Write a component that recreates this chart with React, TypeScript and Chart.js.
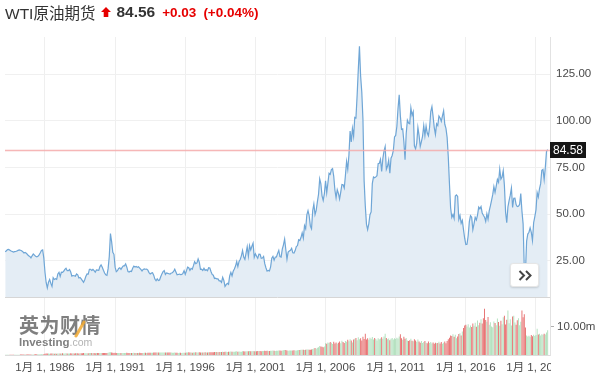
import React, { useEffect, useRef } from 'react';
import { Chart, registerables } from 'chart.js';
Chart.register(...registerables);

// Monthly series, starting March 1983 and ending November 2021
const START_YEAR = 1983;
const START_MONTH = 2; // March (0-based)

const prices: number[] = [
  29.7, 30.3, 30.9, 31.0, 30.6, 30.2, 29.9, 29.6, 29.8, 29.9, // 1983 (Mar-Dec)
  30.2, 30.5, 30.8, 30.6, 30.3, 29.8, 29.1, 29.4, 29.0, 28.3, 27.6, 27.3, // 1984
  26.5, 27.6, 28.6, 28.0, 27.3, 27.0, 27.4, 28.1, 29.2, 30.5, 30.8, 26.5, // 1985
  18.8, 13.3, 10.4, 13.5, 14.9, 12.8, 11.2, 15.9, 14.9, 15.3, 15.0, 17.9, // 1986
  18.7, 16.6, 18.8, 18.7, 19.3, 20.3, 20.9, 19.6, 19.6, 20.2, 18.9, 16.7, // 1987
  17.0, 16.9, 16.6, 17.9, 17.4, 15.7, 16.0, 15.2, 14.3, 13.4, 14.8, 16.6, // 1988
  17.9, 17.8, 20.4, 20.4, 19.8, 20.3, 19.6, 18.8, 20.0, 19.9, 19.8, 21.8, // 1989
  22.7, 21.5, 19.9, 18.4, 17.4, 17.1, 20.7, 27.3, 39.5, 35.2, 29.5, 28.4, // 1990
  21.5, 19.1, 19.6, 20.8, 21.2, 20.3, 21.4, 22.2, 22.2, 23.3, 21.5, 19.1, // 1991
  18.9, 19.4, 19.2, 20.9, 22.1, 21.6, 21.9, 21.4, 21.7, 21.0, 20.3, 19.5, // 1992
  20.3, 20.6, 20.4, 20.5, 19.9, 18.6, 17.9, 18.3, 18.5, 17.2, 15.1, 14.2, // 1993
  15.2, 14.3, 14.6, 16.4, 17.9, 19.1, 19.7, 17.6, 18.4, 18.2, 18.0, 17.8, // 1994
  18.4, 18.5, 19.2, 20.4, 18.9, 17.4, 17.6, 17.8, 17.5, 17.6, 18.2, 19.6, // 1995
  17.7, 19.5, 21.5, 21.2, 19.8, 20.9, 20.4, 22.3, 24.4, 23.4, 23.8, 25.9, // 1996
  24.2, 20.3, 20.4, 19.7, 20.9, 19.8, 20.1, 19.6, 21.2, 21.1, 19.2, 17.6, // 1997
  17.2, 15.4, 15.6, 15.2, 15.2, 14.2, 14.2, 13.4, 16.1, 14.4, 11.2, 12.1, // 1998
  12.8, 12.3, 16.8, 18.7, 16.8, 19.3, 20.5, 22.1, 24.5, 21.8, 24.6, 25.6, // 1999
  27.6, 30.4, 26.9, 25.7, 29.0, 32.5, 27.4, 33.1, 30.8, 32.7, 34.4, 26.8, // 2000
  28.7, 27.4, 26.3, 28.5, 28.4, 26.3, 26.4, 27.2, 23.4, 21.2, 19.4, 19.8, // 2001
  19.5, 21.7, 26.3, 27.3, 25.3, 26.9, 27.0, 28.9, 30.5, 27.2, 26.9, 31.2, // 2002
  33.5, 36.6, 31.0, 25.8, 29.6, 30.2, 30.5, 31.6, 29.2, 29.1, 30.4, 32.5, // 2003
  33.1, 36.2, 35.8, 37.4, 39.9, 37.1, 43.8, 42.1, 49.6, 51.8, 49.1, 43.5, // 2004
  42.1, 51.8, 55.4, 49.7, 52.0, 56.5, 60.6, 68.9, 66.2, 59.8, 57.3, 61.0, // 2005
  67.9, 61.4, 66.6, 71.9, 71.3, 73.9, 74.4, 70.3, 62.9, 58.7, 63.1, 61.1, // 2006
  58.1, 61.8, 65.9, 65.7, 64.0, 70.7, 78.2, 74.0, 81.7, 94.5, 88.7, 96.0, // 2007
  91.75, 101.84, 101.58, 113.46, 127.35, 140.0, 124.08, 115.46, 100.64, 67.81, 54.43, 44.6, // 2008
  41.68, 44.76, 49.66, 51.12, 66.31, 69.89, 69.45, 69.96, 70.61, 77.0, 77.28, 79.36, // 2009
  72.89, 79.66, 83.76, 86.15, 73.97, 75.63, 78.95, 71.92, 79.97, 81.43, 84.11, 91.38, // 2010
  92.19, 96.97, 106.72, 113.93, 102.7, 95.42, 95.7, 88.81, 79.2, 93.19, 100.36, 98.83, // 2011
  98.48, 107.07, 103.02, 104.87, 86.53, 84.96, 88.06, 96.47, 92.19, 86.24, 88.91, 91.82, // 2012
  97.49, 92.05, 97.23, 93.46, 91.97, 96.56, 105.03, 107.65, 102.33, 96.38, 92.72, 98.42, // 2013
  97.49, 102.59, 101.58, 99.74, 102.71, 105.37, 98.17, 95.96, 91.16, 80.54, 66.15, 53.27, // 2014
  48.24, 49.76, 47.6, 59.63, 60.3, 59.47, 47.12, 49.2, 45.09, 46.59, 41.65, 37.04, // 2015
  33.62, 33.75, 38.34, 45.92, 49.1, 48.33, 41.6, 44.7, 48.24, 46.86, 49.44, 53.72, // 2016
  52.81, 54.01, 50.6, 49.33, 48.32, 46.04, 50.17, 47.23, 51.67, 54.38, 57.4, 60.42, // 2017
  64.73, 61.64, 64.94, 68.57, 67.04, 74.15, 68.76, 69.8, 73.25, 65.31, 50.93, 45.41, // 2018
  53.79, 57.22, 60.14, 63.91, 53.5, 58.47, 58.58, 55.1, 54.07, 54.18, 55.17, 61.06, // 2019
  51.56, 44.76, 20.48, 18.84, 35.49, 39.27, 40.27, 42.61, 40.22, 35.79, 45.34, 48.52, // 2020
  52.2, 61.5, 59.16, 63.58, 66.32, 73.47, 73.95, 68.5, 75.03, 83.57, 84.56, // 2021 (Jan-Nov)
];

// Monthly volume, millions
const volumes: number[] = [
  0.05, 0.06, 0.07, 0.08, 0.08, 0.09, 0.09, 0.1, 0.1, 0.1, // 1983
  0.12, 0.12, 0.13, 0.14, 0.14, 0.15, 0.15, 0.16, 0.16, 0.17, 0.17, 0.18, // 1984
  0.2, 0.2, 0.22, 0.22, 0.23, 0.24, 0.24, 0.25, 0.26, 0.27, 0.28, 0.3, // 1985
  0.45, 0.5, 0.55, 0.5, 0.45, 0.5, 0.55, 0.5, 0.48, 0.5, 0.45, 0.5, // 1986
  0.55, 0.5, 0.55, 0.6, 0.55, 0.5, 0.6, 0.55, 0.5, 0.55, 0.6, 0.55, // 1987
  0.6, 0.55, 0.6, 0.65, 0.6, 0.55, 0.6, 0.65, 0.6, 0.7, 0.65, 0.6, // 1988
  0.65, 0.6, 0.7, 0.75, 0.7, 0.65, 0.7, 0.65, 0.7, 0.75, 0.7, 0.7, // 1989
  0.75, 0.7, 0.7, 0.75, 0.7, 0.7, 0.8, 1.0, 0.95, 0.9, 0.8, 0.75, // 1990
  0.8, 0.75, 0.7, 0.7, 0.75, 0.7, 0.72, 0.75, 0.7, 0.75, 0.8, 0.75, // 1991
  0.7, 0.72, 0.7, 0.75, 0.8, 0.75, 0.7, 0.72, 0.75, 0.78, 0.7, 0.72, // 1992
  0.75, 0.78, 0.8, 0.75, 0.8, 0.82, 0.8, 0.78, 0.8, 0.85, 0.9, 0.85, // 1993
  0.85, 0.9, 0.85, 0.88, 0.9, 0.92, 0.88, 0.85, 0.9, 0.88, 0.85, 0.9, // 1994
  0.85, 0.8, 0.82, 0.85, 0.8, 0.78, 0.75, 0.8, 0.78, 0.75, 0.8, 0.82, // 1995
  0.8, 0.85, 0.9, 0.95, 0.88, 0.85, 0.8, 0.85, 0.9, 0.95, 0.9, 0.92, // 1996
  0.95, 0.9, 0.92, 0.88, 0.9, 0.95, 0.92, 0.9, 0.95, 1.0, 0.95, 0.98, // 1997
  1.0, 1.05, 1.1, 1.05, 1.0, 1.1, 1.05, 1.08, 1.15, 1.1, 1.12, 1.15, // 1998
  1.1, 1.15, 1.2, 1.25, 1.2, 1.15, 1.2, 1.25, 1.3, 1.2, 1.25, 1.2, // 1999
  1.2, 1.3, 1.35, 1.25, 1.3, 1.35, 1.3, 1.4, 1.35, 1.3, 1.4, 1.35, // 2000
  1.3, 1.35, 1.4, 1.45, 1.4, 1.35, 1.4, 1.45, 1.5, 1.45, 1.5, 1.4, // 2001
  1.45, 1.5, 1.55, 1.6, 1.5, 1.45, 1.5, 1.55, 1.6, 1.65, 1.55, 1.6, // 2002
  1.7, 1.8, 1.75, 1.6, 1.55, 1.6, 1.65, 1.6, 1.65, 1.7, 1.6, 1.65, // 2003
  1.7, 1.75, 1.8, 1.85, 1.9, 1.85, 1.8, 1.9, 1.95, 2.0, 1.9, 1.85, // 2004
  2.0, 2.1, 2.3, 2.5, 2.2, 2.6, 2.8, 3.2, 3.0, 2.9, 2.8, 3.0, // 2005
  4.2, 4.0, 4.5, 4.3, 4.6, 4.4, 3.9, 4.7, 4.1, 4.5, 4.0, 4.4, // 2006
  4.8, 4.2, 5.1, 4.6, 4.3, 5.0, 4.7, 5.4, 4.9, 5.6, 5.2, 4.5, // 2007
  5.5, 5.8, 6.1, 5.3, 6.3, 5.6, 6.0, 5.2, 6.5, 5.7, 7.6, 5.5, // 2008
  6.0, 5.4, 6.2, 5.8, 6.4, 5.5, 6.1, 5.7, 5.2, 6.0, 5.6, 5.9, // 2009
  6.3, 5.8, 6.6, 7.6, 6.1, 5.6, 5.9, 5.3, 5.8, 6.1, 5.5, 6.0, // 2010
  5.7, 6.2, 5.9, 6.6, 7.4, 6.0, 5.4, 6.5, 5.8, 6.1, 5.2, 5.0, // 2011
  5.3, 5.8, 5.1, 4.9, 5.6, 5.2, 4.7, 5.5, 4.8, 4.4, 5.0, 4.3, // 2012
  4.6, 5.0, 4.4, 4.2, 4.8, 4.3, 4.6, 4.1, 4.5, 4.0, 4.4, 4.2, // 2013
  4.3, 4.7, 4.1, 4.6, 4.0, 4.4, 4.8, 4.2, 5.0, 5.6, 6.2, 7.0, // 2014
  6.8, 7.4, 6.5, 7.2, 6.0, 6.6, 7.5, 7.8, 7.0, 8.4, 9.6, 10.5, // 2015
  10.8, 10.2, 11.0, 9.8, 10.5, 10.0, 11.2, 10.4, 11.5, 10.1, 12.3, 10.6, // 2016
  11.5, 12.8, 11.2, 13.1, 16.5, 12.5, 11.9, 13.6, 10.8, 11.7, 10.2, 9.9, // 2017
  12.0, 11.4, 10.6, 13.0, 11.8, 10.4, 12.2, 11.0, 13.5, 14.0, 10.9, 12.6, // 2018
  15.9, 11.3, 12.8, 10.5, 13.7, 14.0, 11.6, 10.8, 12.4, 13.1, 10.6, 11.9, // 2019
  15.9, 13.5, 14.5, 9.8, 7.0, 6.6, 6.9, 6.5, 7.1, 6.7, 7.2, 6.8, // 2020
  7.1, 9.4, 7.3, 7.6, 7.0, 7.4, 7.2, 7.6, 7.3, 8.0, 8.8, // 2021
];

const priceTicks = [25, 50, 75, 100, 125];
const volumeTicks = [10];
const yearTicks = [1986, 1991, 1996, 2001, 2006, 2011, 2016, 2021];
const lastPrice = 84.58;

const headerName = 'WTI原油期货';
const headerPrice = '84.56';
const headerChange = '+0.03';
const headerPct = '(+0.04%)';

const FONT = 'Arial, "Liberation Sans", "Noto Sans CJK SC", sans-serif';

const overlayPlugin = {
  id: 'overlay',
  afterDatasetsDraw(chart: any) {
    const { ctx, chartArea } = chart;
    const ys = chart.scales.y;
    const y = Math.round(ys.getPixelForValue(lastPrice)) + 0.5;
    ctx.save();
    ctx.strokeStyle = 'rgba(244,170,170,0.85)';
    ctx.lineWidth = 1.5;
    ctx.beginPath();
    ctx.moveTo(chartArea.left, y);
    ctx.lineTo(chartArea.right, y);
    ctx.stroke();
    // separator under the price panel
    const yb = Math.round(ys.bottom) + 0.5;
    ctx.strokeStyle = '#d6d6d6';
    ctx.lineWidth = 1;
    ctx.beginPath();
    ctx.moveTo(chartArea.left, yb);
    ctx.lineTo(chartArea.right, yb);
    ctx.stroke();
    ctx.restore();
  },
  afterDraw(chart: any) {
    const { ctx, chartArea } = chart;
    const ys = chart.scales.y;
    const y = Math.round(ys.getPixelForValue(lastPrice));
    ctx.save();
    // clip x labels beyond the plot
    ctx.fillStyle = '#ffffff';
    ctx.fillRect(chartArea.right + 1, chartArea.bottom + 1, 600, 100);
    // price label box
    ctx.fillStyle = '#161616';
    ctx.fillRect(chartArea.right, y - 8, 36, 16);
    ctx.fillStyle = '#ffffff';
    ctx.font = '12px ' + FONT;
    ctx.textBaseline = 'middle';
    ctx.textAlign = 'left';
    ctx.fillText(lastPrice.toFixed(2), chartArea.right + 3, y + 0.5);
    ctx.restore();
  },
};

export default function App() {
  const ref = useRef<HTMLCanvasElement>(null);

  useEffect(() => {
    const xs = prices.map((_, i) => START_YEAR + (START_MONTH + i) / 12);
    const volColors = volumes.map((_, i) =>
      i > 0 && prices[i] < prices[i - 1] ? 'rgba(226,84,84,0.85)' : 'rgba(150,214,166,0.75)'
    );
    const chart = new Chart(ref.current!, {
      type: 'line',
      data: {
        datasets: [
          {
            type: 'line',
            data: prices.map((p, i) => ({ x: xs[i], y: p })),
            yAxisID: 'y',
            borderColor: '#6fa6d6',
            borderWidth: 1.2,
            backgroundColor: '#e4edf5',
            fill: 'start',
            pointRadius: 0,
            tension: 0,
          } as any,
          {
            type: 'bar',
            data: volumes.map((v, i) => ({ x: xs[i], y: v })),
            yAxisID: 'yv',
            backgroundColor: volColors,
            barPercentage: 0.8,
            categoryPercentage: 1,
          } as any,
        ],
      },
      options: {
        animation: false,
        responsive: false,
        layout: { padding: { left: 5, top: 37, right: 0, bottom: 0 } },
        plugins: { legend: { display: false }, tooltip: { enabled: false } },
        scales: {
          x: {
            type: 'linear',
            offset: false,
            min: 1983.15,
            max: 2022.0,
            afterBuildTicks: (s: any) => {
              s.ticks = yearTicks.map((v) => ({ value: v }));
            },
            afterFit: (s: any) => {
              s.height = 22;
            },
            ticks: {
              callback: (v: any) => `1月 1, ${v}`,
              color: '#4a4a4a',
              font: { size: 11.5, family: FONT },
              padding: 6,
              maxRotation: 0,
              autoSkip: false,
            },
            grid: { color: '#efefef', drawTicks: false, offset: false },
            border: { display: true, color: '#dcdcdc' },
          },
          y: {
            type: 'linear',
            position: 'right',
            stack: 'panels',
            stackWeight: 260,
            min: 5.5,
            max: 145,
            afterBuildTicks: (s: any) => {
              s.ticks = priceTicks.map((v) => ({ value: v }));
            },
            afterFit: (s: any) => {
              s.width = 50;
            },
            ticks: {
              callback: (v: any) => Number(v).toFixed(2),
              color: '#4a4a4a',
              font: { size: 11.5, family: FONT },
              padding: 6,
            },
            grid: { color: '#f0f0f0', drawTicks: false },
            border: { display: true, color: '#e2e2e2' },
          },
          yv: {
            type: 'linear',
            position: 'right',
            stack: 'panels',
            stackWeight: 58,
            min: 0,
            max: 20.7,
            afterBuildTicks: (s: any) => {
              s.ticks = volumeTicks.map((v) => ({ value: v }));
            },
            afterFit: (s: any) => {
              s.width = 50;
            },
            ticks: {
              callback: (v: any) => Number(v).toFixed(2) + 'm',
              color: '#4a4a4a',
              font: { size: 11.5, family: FONT },
              padding: 3,
            },
            grid: { drawOnChartArea: false, tickLength: 4, color: '#b0b0b0' },
            border: { display: true, color: '#e2e2e2' },
          },
        },
      } as any,
      plugins: [overlayPlugin],
    });
    return () => chart.destroy();
  }, []);

  return (
    <div
      style={{
        position: 'fixed',
        left: 0,
        top: 0,
        width: 600,
        height: 377,
        background: '#fff',
        overflow: 'hidden',
        fontFamily: FONT,
      }}
    >
      <canvas
        ref={ref}
        width={600}
        height={377}
        style={{ position: 'absolute', left: 0, top: 0, width: 600, height: 377 }}
      />
      <div
        style={{
          position: 'absolute',
          left: 5,
          top: 2,
          height: 20,
          display: 'flex',
          alignItems: 'center',
          whiteSpace: 'nowrap',
        }}
      >
        <span style={{ fontSize: 15.5, color: '#333' }}>{headerName}</span>
        <svg width={10} height={10} style={{ marginLeft: 6 }}>
          <polygon points="5,0 10,5 7.3,5 7.3,10 2.7,10 2.7,5 0,5" fill="#e60000" />
        </svg>
        <span style={{ fontSize: 15.5, fontWeight: 'bold', color: '#333', marginLeft: 5 }}>{headerPrice}</span>
        <span style={{ fontSize: 13.5, fontWeight: 'bold', color: '#e60000', marginLeft: 7 }}>{headerChange}</span>
        <span style={{ fontSize: 13.5, fontWeight: 'bold', color: '#e60000', marginLeft: 7 }}>{headerPct}</span>
      </div>
      <div style={{ position: 'absolute', left: 19, top: 316, lineHeight: 1, opacity: 0.75 }}>
        <div style={{ fontSize: 20, fontWeight: 'bold', color: '#555', letterSpacing: 0.5 }}>英为财情</div>
        <div style={{ fontSize: 11.5, marginTop: 1, color: '#555' }}>
          <span style={{ fontWeight: 'bold' }}>Investing</span>
          <span style={{ color: '#999', fontSize: 10.5 }}>.com</span>
        </div>
      </div>
      <svg
        width={14}
        height={20}
        style={{ position: 'absolute', left: 73, top: 319, opacity: 0.85 }}
      >
        <line x1={3} y1={17} x2={11} y2={3} stroke="#f0a830" strokeWidth={3} strokeLinecap="round" />
      </svg>
      <div
        style={{
          position: 'absolute',
          left: 510,
          top: 263,
          width: 29,
          height: 24,
          background: '#fff',
          border: '1px solid #e6e6e6',
          borderRadius: 3,
          boxShadow: '0 1px 2px rgba(0,0,0,0.15)',
          boxSizing: 'border-box',
          display: 'flex',
          alignItems: 'center',
          justifyContent: 'center',
        }}
      >
        <svg width={14} height={11}>
          <polyline points="1.5,1 6,5.5 1.5,10" fill="none" stroke="#444" strokeWidth={2} />
          <polyline points="8,1 12.5,5.5 8,10" fill="none" stroke="#444" strokeWidth={2} />
        </svg>
      </div>
    </div>
  );
}
